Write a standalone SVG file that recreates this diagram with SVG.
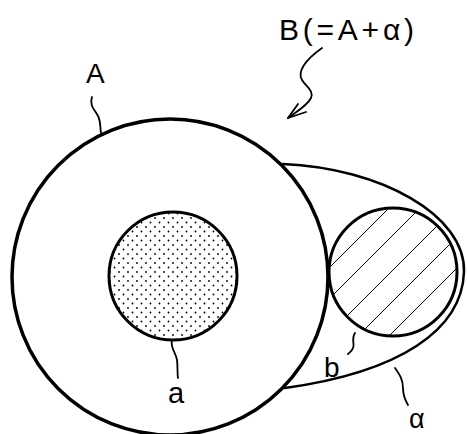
<svg xmlns="http://www.w3.org/2000/svg" width="467" height="434" viewBox="0 0 467 434">
<style>
.t{font-family:"Liberation Sans",Arial,sans-serif;fill:#000}
.ln{fill:none;stroke:#000;stroke-linecap:round;stroke-linejoin:round}
</style>
<defs>
<pattern id="dots" width="9" height="9" patternUnits="userSpaceOnUse">
<circle cx="2" cy="2" r="0.9" fill="#000"/>
<circle cx="6.5" cy="6.5" r="0.9" fill="#000"/>
</pattern>
<clipPath id="bc"><circle cx="393" cy="272" r="63"/></clipPath>
</defs>
<rect width="467" height="434" fill="#fff"/>
<g id="alpha">
<path class="ln" stroke-width="2.5" d="M283,164 C 380,168 466,215 464,272 C 462,330 400,372 285,388"/>
<text class="t" x="409" y="428" font-size="27">α</text>
</g>
<g id="A">
<circle cx="170" cy="277" r="158" fill="#fff" stroke="#000" stroke-width="3.5"/>
<text class="t" x="86" y="83" font-size="28">A</text>
</g>
<g id="a">
<circle cx="173" cy="276" r="64" fill="url(#dots)" stroke="#000" stroke-width="3"/>
<text class="t" x="168" y="403" font-size="29">a</text>
</g>
<g id="b">
<circle cx="393" cy="272" r="64" fill="#fff"/>
<g clip-path="url(#bc)" stroke="#000" stroke-width="1">
<line x1="217" y1="380" x2="437" y2="160"/>
<line x1="248" y1="380" x2="468" y2="160"/>
<line x1="283" y1="380" x2="503" y2="160"/>
<line x1="314" y1="380" x2="534" y2="160"/>
<line x1="345" y1="380" x2="565" y2="160"/>
</g>
<circle cx="393" cy="272" r="64" fill="none" stroke="#000" stroke-width="3"/>
<text class="t" x="324" y="377" font-size="28">b</text>
</g>
<g id="B">
<text class="t" x="279" y="40" font-size="30" textLength="135" lengthAdjust="spacing">B(=A+α)</text>
</g>
<g id="connectors" class="ln" stroke-width="1.8">
<path d="M92,97 C 89,106 95,110 98,116 C 101,122 100,128 101,133"/>
<path d="M172,340 C 170,348 176,353 177,360 C 178,367 177,372 178,378"/>
<path d="M355,333 C 351,339 355,344 353,348 C 352,351 350,352 348,354"/>
<path d="M395,368 C 400,375 403,380 403,388 C 403,395 405,400 408,405"/>
<path d="M322,48 C 305,60 297,72 302,80 C 306,87 314,90 311,98 C 307,106 296,112 288,118"/>
<path d="M288,118 L298,104 M288,118 L306,112"/>
</g>
</svg>
